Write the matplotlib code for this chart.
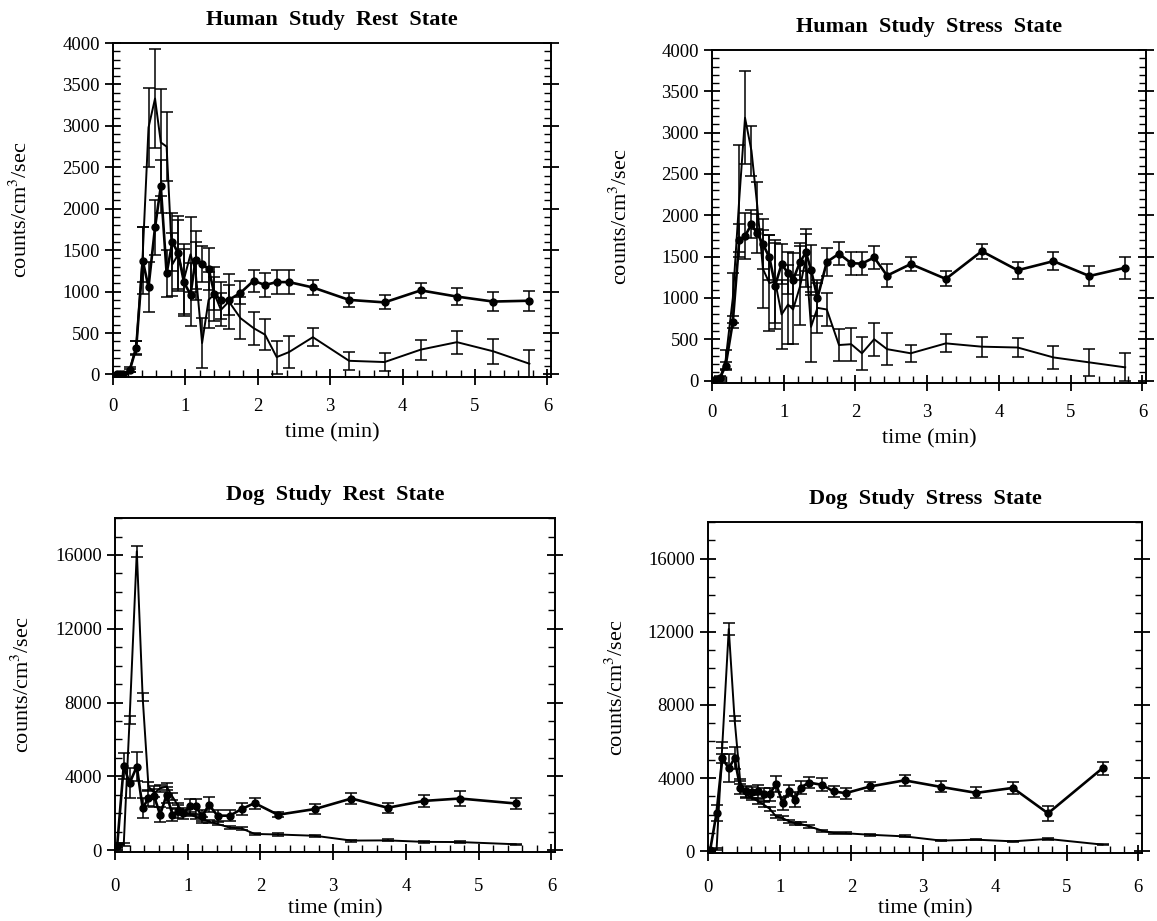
import numpy as np
import matplotlib
matplotlib.use('Agg')
import matplotlib.pyplot as plt
from matplotlib.ticker import MultipleLocator

plt.rcParams['font.family'] = ['Liberation Serif', 'DejaVu Serif']
plt.rcParams['mathtext.fontset'] = 'stix'

# Human study, rest state
t_hr = [0.05, 0.09, 0.14, 0.23, 0.32, 0.41, 0.49, 0.58, 0.66, 0.74, 0.82, 0.90, 0.98, 1.07,
        1.14, 1.23, 1.32, 1.40, 1.49, 1.60, 1.76, 1.94, 2.10, 2.26, 2.43, 2.76, 3.26, 3.75,
        4.25, 4.75, 5.25, 5.75]
tissue_hr = [0, 0, 0, 50, 320, 1375, 1055, 1775, 2270, 1220, 1600, 1460, 1110, 965,
             1385, 1330, 1275, 975, 895, 900, 985, 1130, 1080, 1115, 1115, 1050, 900, 870,
             1015, 940, 880, 890]
tissue_hr_err = [0, 0, 0, 20, 90, 400, 300, 330, 320, 280, 350, 450, 400, 380,
                 350, 220, 250, 200, 220, 180, 140, 130, 140, 140, 140, 90, 80, 85,
                 90, 100, 110, 120]
blood_hr = [0, 0, 0, 60, 330, 1450, 2980, 3330, 2800, 2750, 1330, 1450, 1150, 1450,
            1250, 380, 900, 970, 780, 880, 680, 560, 480, 210, 270, 450, 165, 150,
            300, 390, 280, 130]
blood_hr_err = [0, 0, 0, 30, 80, 330, 480, 600, 650, 420, 380, 420, 420, 450,
                350, 300, 340, 330, 200, 330, 250, 200, 190, 200, 190, 110, 110, 110,
                120, 140, 150, 170]

# Human study, stress state
t_hs = [0.03, 0.11, 0.19, 0.29, 0.38, 0.46, 0.55, 0.63, 0.71, 0.80, 0.88, 0.97, 1.06, 1.13,
        1.23, 1.31, 1.38, 1.47, 1.60, 1.77, 1.94, 2.09, 2.26, 2.44, 2.77, 3.26, 3.76, 4.26,
        4.76, 5.26, 5.76]
tissue_hs = [5, 30, 180, 710, 1700, 1750, 1890, 1780, 1650, 1490, 1150, 1410, 1300, 1220,
             1440, 1550, 1340, 1000, 1435, 1535, 1420, 1415, 1490, 1270, 1410, 1230, 1565, 1335,
             1445, 1265, 1365]
tissue_hs_err = [5, 15, 40, 70, 200, 280, 170, 240, 300, 270, 520, 240, 250, 320,
                 220, 220, 300, 220, 170, 140, 140, 140, 140, 140, 90, 90, 90, 100,
                 110, 120, 130]
blood_hs = [0, 20, 250, 1000, 2200, 3180, 2780, 2120, 1350, 1180, 1200, 800, 920, 860,
            1150, 1480, 650, 880, 860, 430, 440, 330, 500, 380, 330, 450, 410, 400,
            280, 220, 160]
blood_hs_err = [10, 30, 120, 300, 650, 560, 300, 280, 470, 580, 500, 420, 480, 420,
                480, 350, 420, 300, 200, 190, 200, 200, 200, 190, 100, 110, 120, 120,
                140, 160, 170]

# Dog study, rest state
t_dr = [0.03, 0.12, 0.20, 0.30, 0.38, 0.46, 0.54, 0.62, 0.71, 0.79, 0.87, 0.94, 1.03, 1.11,
        1.20, 1.29, 1.41, 1.58, 1.74, 1.92, 2.24, 2.75, 3.25, 3.75, 4.25, 4.74, 5.51]
tissue_dr = [250, 4570, 3630, 4530, 2280, 2820, 2910, 1920, 3000, 1920, 2100, 2010, 2370, 2370,
             1830, 2460, 1870, 1870, 2230, 2550, 1920, 2230, 2800, 2300, 2670, 2800, 2530]
tissue_dr_err = [150, 700, 800, 800, 550, 450, 550, 400, 450, 350, 350, 300, 400, 400,
                 350, 400, 300, 300, 300, 300, 130, 250, 300, 280, 330, 380, 280]
blood_dr = [250, 300, 7050, 16200, 8300, 3450, 3100, 3350, 3450, 2900, 2400, 2050, 1950, 1800,
            1700, 1550, 1420, 1220, 1180, 880, 850, 780, 520, 530, 450, 440, 320]
blood_dr_err = [60, 100, 200, 300, 200, 250, 200, 200, 200, 200, 150, 150, 120, 120,
                100, 100, 80, 80, 70, 60, 60, 50, 50, 50, 40, 40, 40]

# Dog study, stress state
t_ds = [0.03, 0.12, 0.20, 0.29, 0.37, 0.45, 0.53, 0.61, 0.70, 0.78, 0.86, 0.95, 1.04, 1.13,
        1.21, 1.29, 1.41, 1.59, 1.75, 1.92, 2.26, 2.74, 3.25, 3.74, 4.25, 4.74, 5.50]
tissue_ds = [50, 2100, 5080, 4535, 5080, 3480, 3265, 3210, 3265, 3120, 3120, 3680, 2630, 3300,
             2810, 3480, 3750, 3630, 3265, 3175, 3540, 3874, 3514, 3190, 3460, 2070, 4540]
tissue_ds_err = [50, 450, 250, 760, 600, 350, 300, 300, 350, 350, 350, 450, 350, 300,
                 400, 350, 300, 350, 300, 300, 250, 300, 300, 300, 330, 400, 350]
blood_ds = [0, 100, 5800, 12150, 7260, 3800, 3080, 2940, 2720, 2540, 2320, 1900, 1810, 1630,
            1540, 1490, 1360, 1125, 1000, 980, 900, 810, 580, 630, 540, 670, 360]
blood_ds_err = [20, 50, 150, 350, 150, 150, 150, 150, 150, 150, 120, 100, 100, 80,
                80, 80, 70, 60, 60, 60, 50, 50, 40, 40, 40, 40, 30]

titles = ['Human  Study  Rest  State', 'Human  Study  Stress  State',
          'Dog  Study  Rest  State', 'Dog  Study  Stress  State']


def draw_panel(ax, t, tissue, tissue_err, blood, blood_err, title, human):
    # plain line = blood curve, line with dots = tissue curve
    ax.errorbar(t, blood, yerr=blood_err, fmt='-', color='k', lw=1.4,
                elinewidth=1.1, capsize=4, capthick=1.1)
    ax.errorbar(t, tissue, yerr=tissue_err, fmt='-o', color='k', lw=1.9, ms=5,
                elinewidth=1.1, capsize=4, capthick=1.1)
    ax.set_xlim(0, 6.05)
    ax.xaxis.set_major_locator(MultipleLocator(1))
    ax.xaxis.set_minor_locator(MultipleLocator(0.2))
    if human:
        ax.set_ylim(-30, 4000)
        ax.yaxis.set_major_locator(MultipleLocator(500))
        ax.yaxis.set_minor_locator(MultipleLocator(100))
        xpad = 9
    else:
        ax.set_ylim(-100, 18000)
        ax.yaxis.set_major_locator(MultipleLocator(4000))
        ax.yaxis.set_minor_locator(MultipleLocator(1000))
        xpad = 13
    ax.tick_params(which='major', direction='inout', length=12, width=1.3,
                   left=True, right=True, top=False, bottom=True, labelsize=13.5)
    ax.tick_params(axis='x', which='major', pad=xpad)
    ax.tick_params(which='minor', direction='in', length=5, width=1.0,
                   left=True, right=True, top=False, bottom=True)
    for s in ax.spines.values():
        s.set_linewidth(1.4)
    ax.set_title(title, fontsize=16, fontweight='bold', pad=13)
    ax.set_xlabel('time (min)', fontsize=16)
    ax.set_ylabel('counts/cm$^3$/sec', fontsize=16)
    ax.yaxis.set_label_coords(-0.185, 0.5)
    ax.xaxis.set_label_coords(0.5, -0.14)


fig = plt.figure(figsize=(11.57, 9.21), dpi=100)
ax1 = fig.add_axes([0.0977, 0.5907, 0.3786, 0.3626])
ax2 = fig.add_axes([0.6154, 0.5841, 0.3751, 0.3616])
ax3 = fig.add_axes([0.0994, 0.0749, 0.3803, 0.3626])
ax4 = fig.add_axes([0.6119, 0.0738, 0.3751, 0.3594])

draw_panel(ax1, t_hr, tissue_hr, tissue_hr_err, blood_hr, blood_hr_err, titles[0], True)
draw_panel(ax2, t_hs, tissue_hs, tissue_hs_err, blood_hs, blood_hs_err, titles[1], True)
draw_panel(ax3, t_dr, tissue_dr, tissue_dr_err, blood_dr, blood_dr_err, titles[2], False)
draw_panel(ax4, t_ds, tissue_ds, tissue_ds_err, blood_ds, blood_ds_err, titles[3], False)

fig.savefig('out.png', dpi=100)
